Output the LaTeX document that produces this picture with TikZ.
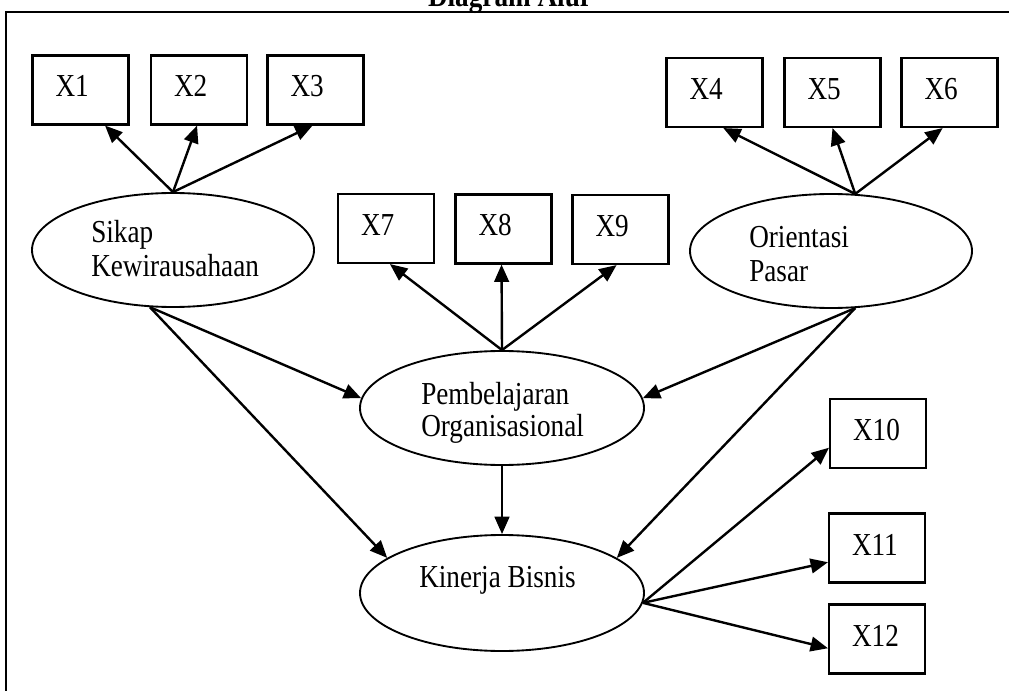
\documentclass[tikz,border=0pt]{standalone}
\usepackage{fontspec}
\setmainfont{Liberation Serif}[FakeStretch=0.85]
\usetikzlibrary{arrows.meta,calc,shapes.geometric}
\begin{document}
\begin{tikzpicture}[x=0.75pt,y=-0.75pt,
  every node/.style={font=\fontsize{24}{24}\selectfont},
  box/.style={draw, line width=1.6pt, minimum width=72pt, minimum height=51.75pt,
    text width=37.5pt, inner xsep=17.25pt, align=left, text height=16.5pt, text depth=6pt},
  oval/.style={draw, ellipse, line width=1.4pt, inner sep=0pt, minimum height=85.5pt},
  txt/.style={anchor=base west, inner sep=0pt},
  arr/.style={-{Triangle[length=13pt,width=11pt]}, line width=1.8pt},
  frame/.style={line width=1.9pt},
]
\useasboundingbox (0,0) rectangle (1009,691);

% frame and title
\coordinate (fbl) at (6,691);
\coordinate (ftl) at (6,12);
\coordinate (ftr) at (1009,12);
\draw[frame] (fbl) -- (ftl) -- (ftr);
\node[font=\bfseries\fontsize{24}{24}\selectfont, anchor=base, inner sep=0pt] (title) at (510,7) {Diagram Alur};

% latent variables
\node[oval, minimum width=211.5pt] (sk) at (173,250) {};
\node[oval, minimum width=211.5pt] (op) at (831,251) {};
\node[oval, minimum width=213pt] (po) at (502,408) {};
\node[oval, minimum width=213pt, minimum height=87pt] (kb) at (502,593) {};

\node[txt] (skt1) at (91,243) {Sikap};
\node[txt] (skt2) at (91,277) {Kewirausahaan};
\node[txt] (opt1) at (749,248) {Orientasi};
\node[txt] (opt2) at (749,282) {Pasar};
\node[txt] (pot1) at (421,404) {Pembelajaran};
\node[txt] (pot2) at (421,436) {Organisasional};
\node[txt] (kbt1) at (419,587) {Kinerja Bisnis};

% indicators
\node[box] (x1) at (80.5,90) {X1};
\node[box] (x2) at (199,90) {X2};
\node[box] (x3) at (315.5,90) {X3};
\node[box] (x4) at (714.5,92.5) {X4};
\node[box] (x5) at (832.5,92.5) {X5};
\node[box] (x6) at (949.5,92.5) {X6};
\node[box] (x7) at (386,228.5) {X7};
\node[box] (x8) at (503.5,229) {X8};
\node[box] (x9) at (620.5,229.5) {X9};
\node[box] (x10) at (878,433.5) {X10};
\node[box] (x11) at (877,548) {X11};
\node[box] (x12) at (877,639) {X12};

% loadings
\draw[arr] (sk.north) -- ($(x1.south west)!0.75!(x1.south east)$);
\draw[arr] (sk.north) -- ($(x2.south west)!0.48!(x2.south east)$);
\draw[arr] (sk.north) -- ($(x3.south west)!0.47!(x3.south east)$);
\draw[arr] (op.67) -- ($(x4.south west)!0.59!(x4.south east)$);
\draw[arr] (op.67) -- ($(x5.south west)!0.5!(x5.south east)$);
\draw[arr] (op.67) -- ($(x6.south west)!0.43!(x6.south east)$);
\draw[arr] (po.north) -- ($(x7.south west)!0.54!(x7.south east)$);
\draw[arr] (po.north) -- ($(x8.south west)!0.48!(x8.south east)$);
\draw[arr] (po.north) -- ($(x9.south west)!0.46!(x9.south east)$);
\draw[arr] (kb.-4) -- ($(x10.north west)!0.7!(x10.south west)$);
\draw[arr] (kb.-4) -- ($(x11.north west)!0.7!(x11.south west)$);
\draw[arr] (kb.-4) -- ($(x12.north west)!0.63!(x12.south west)$);

% structural paths
\draw[arr] (sk.248) -- (po.176);
\draw[arr] (sk.248) -- (kb.163);
\draw[arr] (op.-67) -- (po.4);
\draw[arr] (op.-67) -- (kb.17);
\draw[arr] (po.south) -- (kb.north);
\end{tikzpicture}
\end{document}
